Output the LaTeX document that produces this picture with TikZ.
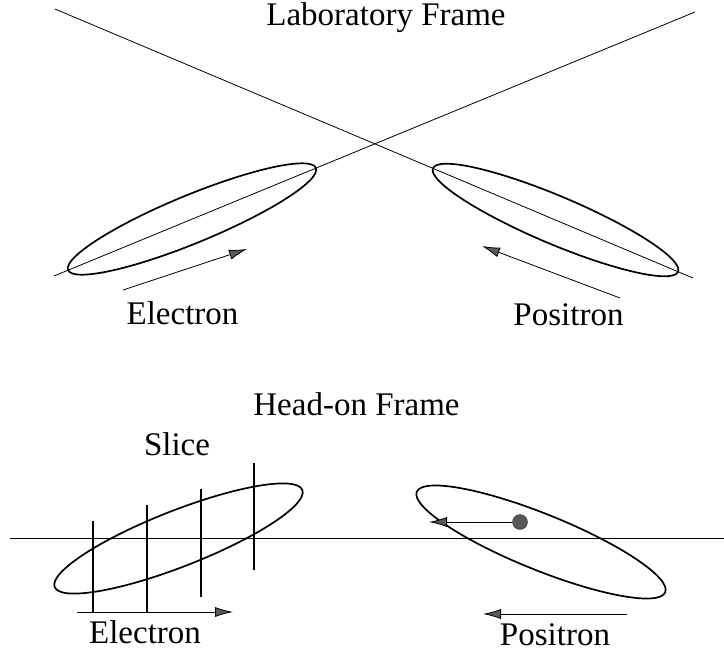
\documentclass[tikz,border=0pt]{standalone}
\usepackage{fontspec}
\setmainfont{Liberation Serif}
\usetikzlibrary{arrows.meta}
\begin{document}
\begin{tikzpicture}[x=1pt,y=-1pt,
  thinline/.style={line width=0.8pt},
  beam/.style={line width=1.7pt},
  slicebar/.style={line width=1.6pt},
  motion/.style={line width=0.8pt,-{Latex[length=18pt,width=10pt,fill=black!65]}},
  lbl/.style={anchor=base,inner sep=0pt,font=\fontsize{33}{36}\selectfont}]
\useasboundingbox (0,0) rectangle (724,654);
% ---------- Laboratory frame ----------
\node[lbl] (labtitle) at (386,25) {Laboratory Frame};
\coordinate (a1) at (55,9);
\coordinate (a2) at (693,278);
\coordinate (b1) at (54,276);
\coordinate (b2) at (695,12);
\draw[thinline] (a1) -- (a2);
\draw[thinline] (b1) -- (b2);
\draw[beam,shift={(192,219)},rotate=22.4] (0,0) ellipse [x radius=134, y radius=24];
\draw[beam,shift={(555.5,220)},rotate=-22.9] (0,0) ellipse [x radius=133, y radius=24];
\coordinate (ea1) at (123,290);
\coordinate (ea2) at (247,249);
\draw[motion] (ea1) -- (ea2);
\coordinate (pa1) at (620,298);
\coordinate (pa2) at (482,246);
\draw[motion] (pa1) -- (pa2);
\node[lbl] (elab) at (182.5,324) {Electron};
\node[lbl] (plab) at (568.5,325) {Positron};
% ---------- Head-on frame ----------
\node[lbl] (hotitle) at (356.5,415) {Head-on Frame};
\node[lbl] (slicelab) at (177,455) {Slice};
\coordinate (h1) at (10,538);
\coordinate (h2) at (724,538);
\draw[thinline] (h1) -- (h2);
\draw[beam,shift={(178.5,538.5)},rotate=21.4] (0,0) ellipse [x radius=133, y radius=28];
\draw[beam,shift={(541,542)},rotate=-22] (0,0) ellipse [x radius=134, y radius=28];
\coordinate (s1t) at (93,521);  \coordinate (s1b) at (93,612);
\coordinate (s2t) at (147,505); \coordinate (s2b) at (147,612);
\coordinate (s3t) at (201,489); \coordinate (s3b) at (201,597);
\coordinate (s4t) at (254,463); \coordinate (s4b) at (254,570);
\draw[slicebar] (s1t) -- (s1b);
\draw[slicebar] (s2t) -- (s2b);
\draw[slicebar] (s3t) -- (s3b);
\draw[slicebar] (s4t) -- (s4b);
\coordinate (eb1) at (77,612);
\coordinate (eb2) at (233,612);
\draw[motion] (eb1) -- (eb2);
\coordinate (pb1) at (627,614);
\coordinate (pb2) at (483,614);
\draw[motion] (pb1) -- (pb2);
\node[circle,fill=black!65,draw=black!80,inner sep=0pt,minimum size=15pt] (dot) at (520,522) {};
\coordinate (dottip) at (429,522);
\draw[motion] (dot) -- (dottip);
\node[lbl] (elab2) at (145,643) {Electron};
\node[lbl] (plab2) at (555,645) {Positron};
\end{tikzpicture}
\end{document}
